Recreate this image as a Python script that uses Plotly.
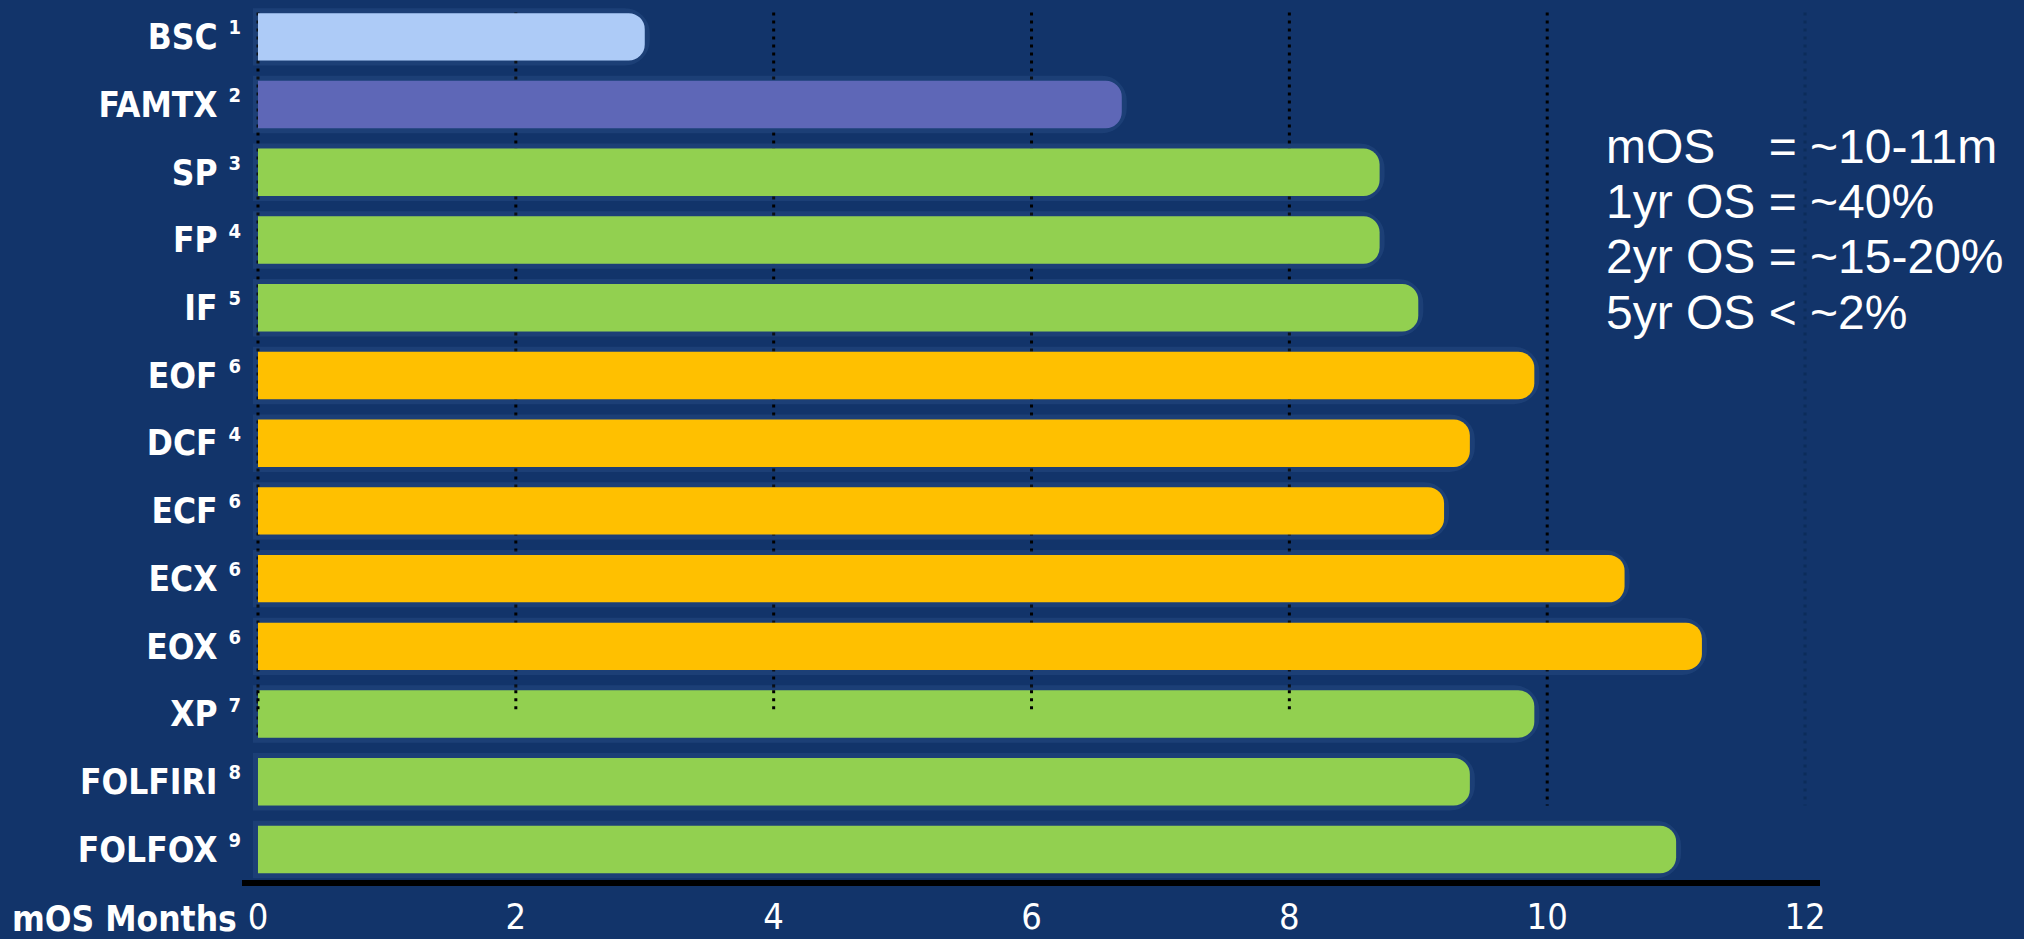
import plotly.graph_objects as go

# ---- data ----
regimens = ["BSC", "FAMTX", "SP", "FP", "IF", "EOF", "DCF", "ECF", "ECX", "EOX", "XP", "FOLFIRI", "FOLFOX"]
ref_nums = ["1", "2", "3", "4", "5", "6", "4", "6", "6", "6", "7", "8", "9"]
mos_months = [3.0, 6.7, 8.7, 8.7, 9.0, 9.9, 9.4, 9.2, 10.6, 11.2, 9.9, 9.4, 11.0]
groups = ["bsc", "famtx", "green", "green", "green", "yellow", "yellow", "yellow", "yellow", "yellow", "green", "green", "green"]
x_ticks = [0, 2, 4, 6, 8, 10, 12]
summary_lines = [
    "mOS\u00a0\u00a0\u00a0\u00a0= ~10-11m",
    "1yr OS = ~40%",
    "2yr OS = ~15-20%",
    "5yr OS < ~2%",
]
axis_title = "mOS Months"

# ---- styles ----
BG = "#12346A"
group_colors = {"bsc": "#ADCBF7", "famtx": "#5E67B7", "green": "#92D050", "yellow": "#FFC000"}
bar_colors = [group_colors[g] for g in groups]
LABEL_FONT = "DejaVu Sans Condensed, DejaVu Sans, sans-serif"

ticktext = [f"{n} <sup><span style='font-size:20px'>{r}</span></sup>" for n, r in zip(regimens, ref_nums)]

fig = go.Figure()

# soft glow behind the bars
fig.add_trace(go.Bar(
    x=mos_months, y=regimens, orientation="h", width=0.7,
    marker=dict(color="rgba(120,170,225,0.10)", cornerradius=20,
                line=dict(color="rgba(120,170,225,0.10)", width=10)),
    hoverinfo="skip", showlegend=False,
))
fig.add_trace(go.Bar(
    x=mos_months, y=regimens, orientation="h", width=0.7,
    marker=dict(color=bar_colors, cornerradius=16, line=dict(width=0)),
    showlegend=False,
))

# dotted gridlines
shapes = []
for v in x_ticks:
    if v == 12:
        color, bottom = "#0C2C5A", 11.35
    elif v == 10:
        color, bottom = "black", 11.35
    elif v == 0:
        color, bottom = "black", 10.33
    else:
        color, bottom = "black", 10.2
    shapes.append(dict(type="line", xref="x", yref="y", x0=v, x1=v, y0=-0.36, y1=bottom,
                       line=dict(color=color, width=3, dash="3px,5px"), layer="below"))
    if v <= 8:
        shapes.append(dict(type="line", xref="x", yref="y", x0=v, x1=v, y0=10 - 0.35, y1=9.95,
                           line=dict(color="black", width=3, dash="3px,5px"), layer="above"))

annotations = []
for i, line in enumerate(summary_lines):
    annotations.append(dict(
        text=line, xref="paper", yref="paper", x=0.863, y=0.834 - i * 0.063,
        xanchor="left", yanchor="middle", showarrow=False,
        font=dict(family="Liberation Sans, Arial, sans-serif", size=48, color="white"),
    ))
annotations.append(dict(
    text=axis_title, xref="paper", yref="paper", x=-0.002, y=-0.0443,
    xanchor="right", yanchor="middle", showarrow=False,
    font=dict(family=LABEL_FONT, size=35, color="white", weight="bold"),
))

fig.update_layout(
    width=2024, height=939,
    paper_bgcolor=BG, plot_bgcolor=BG,
    margin=dict(l=242, r=204, t=0, b=59, autoexpand=False),
    barmode="overlay",
    shapes=shapes,
    annotations=annotations,
    xaxis=dict(
        range=[-0.124, 12.116], tickmode="array", tickvals=x_ticks, automargin=False,
        showgrid=False, zeroline=False, showline=True, linecolor="black", linewidth=6,
        ticks="", ticklabelstandoff=0,
        tickfont=dict(family=LABEL_FONT, size=36, color="white"),
    ),
    yaxis=dict(
        type="category", categoryorder="array", categoryarray=regimens, automargin=False,
        range=[12.45, -0.544], tickmode="array", tickvals=regimens, ticktext=ticktext,
        showgrid=False, zeroline=False, showline=False, ticks="",
        tickfont=dict(family=LABEL_FONT, size=35, color="white", weight="bold"),
    ),
)

fig.write_html("out.html")
